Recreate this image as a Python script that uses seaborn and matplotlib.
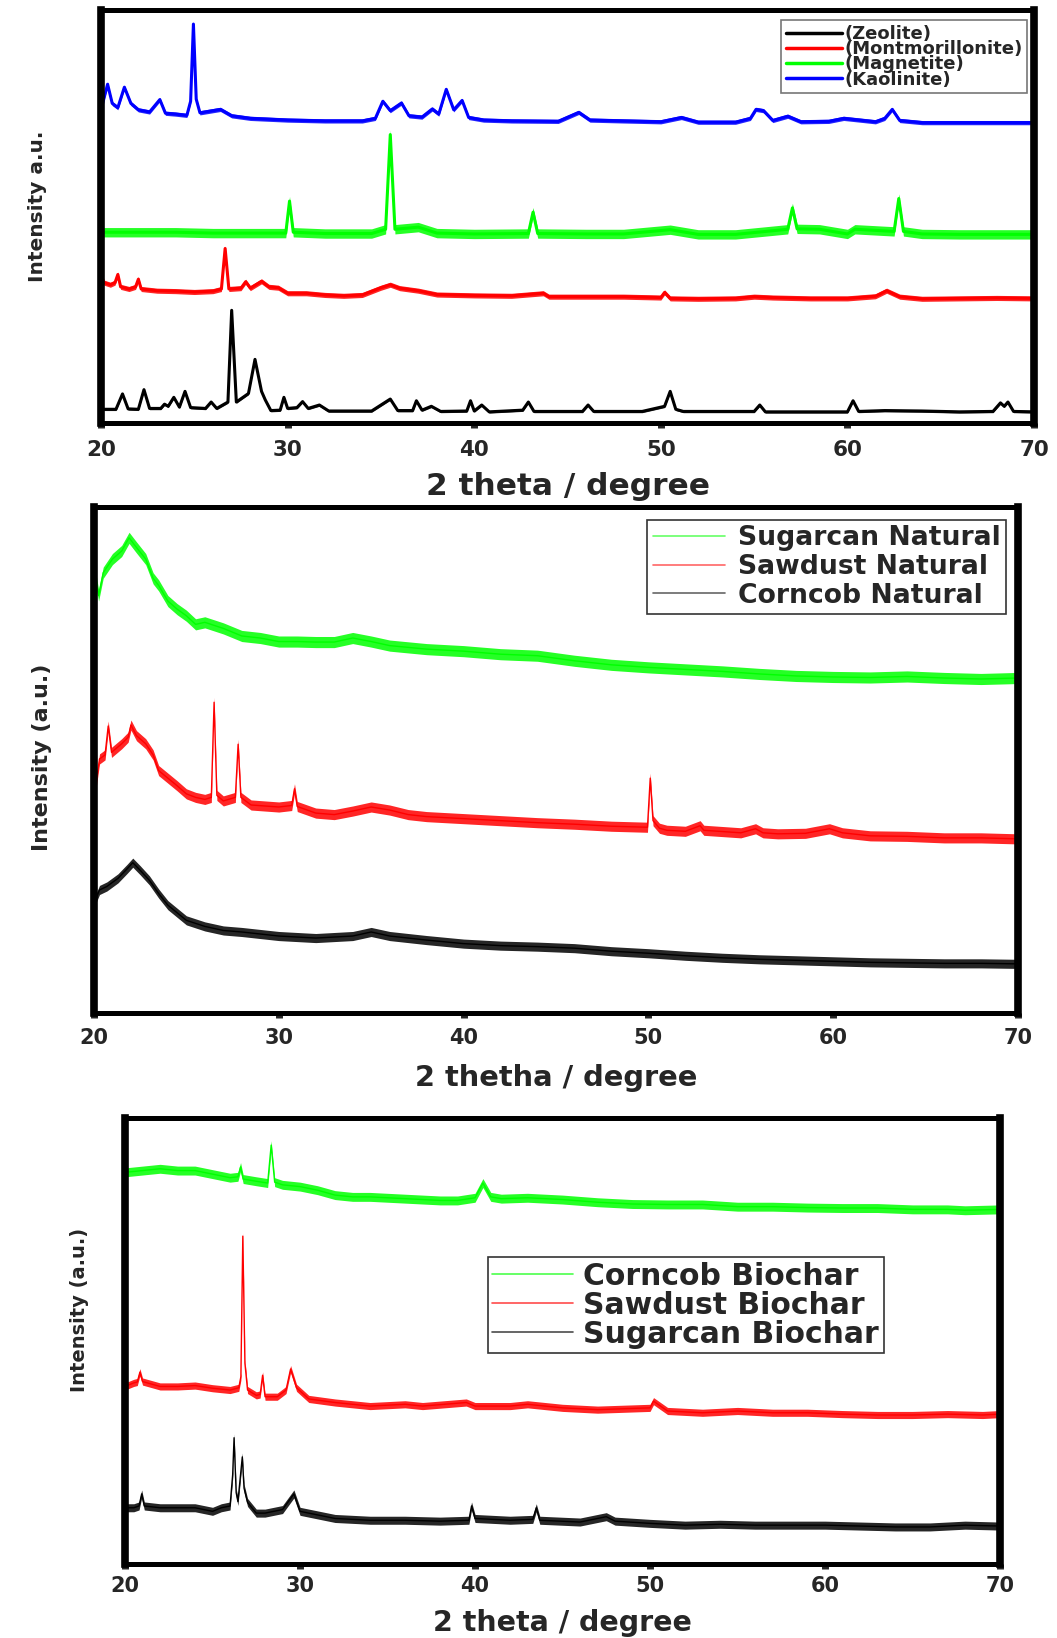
import numpy as np
import matplotlib
matplotlib.use("Agg")
import matplotlib.pyplot as plt
import seaborn as sns

# ---- panel 1 : clay / mineral references (2 theta, intensity a.u.) ----
zeolite = [(20.0, 5.8), (20.8, 5.8), (21.15, 9.4), (21.45, 5.9), (22.0, 5.8), (22.3, 10.4),
           (22.6, 6.0), (23.2, 6.0), (23.4, 7.0), (23.6, 6.5), (23.9, 8.6), (24.2, 6.3),
           (24.5, 10.0), (24.8, 6.2), (25.6, 6.0), (25.9, 7.5), (26.2, 6.0), (26.8, 7.5),
           (27.0, 29.0), (27.25, 7.5), (27.9, 9.5), (28.25, 17.5), (28.6, 10.0), (28.8, 8.0),
           (29.1, 5.5), (29.6, 5.6), (29.8, 8.6), (30.0, 6.0), (30.5, 6.2), (30.8, 7.6),
           (31.1, 6.0), (31.7, 6.8), (32.2, 5.4), (34.5, 5.4), (35.5, 8.2), (35.9, 5.5),
           (36.7, 5.5), (36.9, 7.8), (37.2, 5.6), (37.7, 6.5), (38.2, 5.3), (39.6, 5.4),
           (39.8, 7.8), (40.0, 5.4), (40.4, 6.8), (40.8, 5.2), (42.6, 5.6), (42.9, 7.5),
           (43.2, 5.3), (45.8, 5.3), (46.1, 6.8), (46.4, 5.3), (49.0, 5.3), (50.2, 6.5),
           (50.5, 10.0), (50.8, 5.8), (51.2, 5.3), (55.0, 5.3), (55.3, 6.8), (55.6, 5.2),
           (60.0, 5.2), (60.3, 7.8), (60.6, 5.3), (62.0, 5.5), (64.0, 5.4), (66.0, 5.2),
           (67.8, 5.3), (68.2, 7.3), (68.4, 6.5), (68.6, 7.5), (68.9, 5.3), (70.0, 5.2)]
montmorillonite = [(20.0, 37.5), (20.15, 35.5), (20.5, 35.0), (20.75, 35.5), (20.9, 37.4),
                   (21.05, 34.5), (21.5, 34.0), (21.85, 34.5), (22.0, 36.3), (22.15, 34.0),
                   (23.0, 33.6), (24.0, 33.5), (25.0, 33.3), (26.0, 33.5), (26.45, 34.0),
                   (26.65, 43.5), (26.85, 34.0), (27.5, 34.2), (27.75, 35.7), (28.0, 34.2),
                   (28.6, 35.8), (29.0, 34.5), (29.5, 34.3), (30.0, 33.0), (31.0, 33.0),
                   (32.0, 32.6), (33.0, 32.4), (34.0, 32.6), (35.0, 34.3), (35.5, 35.0),
                   (36.0, 34.2), (37.0, 33.6), (38.0, 32.7), (40.0, 32.5), (42.0, 32.4),
                   (43.7, 33.0), (44.0, 32.2), (46.0, 32.2), (48.0, 32.2), (50.0, 32.0),
                   (50.2, 33.2), (50.5, 31.8), (52.0, 31.7), (54.0, 31.8), (55.0, 32.2),
                   (56.0, 32.0), (58.0, 31.8), (60.0, 31.8), (61.5, 32.3), (62.1, 33.6),
                   (62.8, 32.2), (64.0, 31.7), (66.0, 31.8), (68.0, 31.9), (70.0, 31.8)]
magnetite = [(20.0, 47.3), (22.0, 47.3), (24.0, 47.3), (26.0, 47.1), (28.0, 47.1), (29.9, 47.1),
             (30.1, 54.6), (30.3, 47.3), (32.0, 47.0), (34.5, 47.0), (35.25, 48.0), (35.5, 70.2),
             (35.75, 48.0), (37.0, 48.5), (38.0, 47.1), (40.0, 46.9), (42.9, 47.0), (43.15, 52.0),
             (43.4, 47.0), (46.0, 46.9), (48.0, 46.9), (50.5, 47.9), (52.0, 46.8), (54.0, 46.8),
             (56.8, 48.0), (57.05, 53.0), (57.3, 48.1), (58.5, 48.0), (60.0, 46.9), (60.4, 48.0),
             (62.5, 47.5), (62.75, 55.2), (63.0, 47.5), (64.0, 46.9), (66.0, 46.8), (68.0, 46.8),
             (70.0, 46.8)]
kaolinite = [(20.0, 76.0), (20.35, 82.0), (20.6, 77.5), (20.9, 76.5), (21.25, 81.3), (21.6, 77.5),
             (22.0, 76.0), (22.6, 75.5), (23.15, 78.4), (23.45, 75.2), (24.0, 75.0), (24.6, 74.7),
             (24.8, 78.0), (24.95, 96.1), (25.1, 78.5), (25.3, 75.3), (26.4, 76.1), (27.0, 74.6),
             (28.0, 74.0), (30.0, 73.6), (32.0, 73.4), (34.0, 73.4), (34.7, 74.0), (35.1, 78.0),
             (35.5, 75.8), (36.1, 77.6), (36.5, 74.6), (37.2, 74.3), (37.75, 76.2), (38.1, 75.0),
             (38.5, 80.8), (38.9, 76.0), (39.35, 78.2), (39.7, 74.2), (40.5, 73.6), (42.0, 73.4),
             (44.5, 73.3), (45.6, 75.4), (46.2, 73.6), (48.0, 73.4), (50.0, 73.2), (51.1, 74.2),
             (52.0, 73.1), (54.0, 73.1), (54.8, 74.0), (55.1, 76.1), (55.5, 75.8), (56.0, 73.5),
             (56.8, 74.5), (57.5, 73.2), (59.0, 73.3), (59.8, 74.0), (61.5, 73.2), (62.0, 74.0),
             (62.4, 76.1), (62.8, 73.5), (64.0, 73.0), (66.0, 73.0), (68.0, 73.0), (70.0, 73.0)]
minerals = ["(Zeolite)", "(Montmorillonite)", "(Magnetite)", "(Kaolinite)"]
minerals_noise = [0.3, 0.6, 1.1, 0.5]

# ---- panel 2 : natural residues ----
sugarcan_nat = [(20.0, 83.6), (20.1, 86.0), (20.25, 82.5), (20.5, 87.0), (21.0, 89.7), (21.5, 91.3),
                (21.9, 93.9), (22.3, 92.0), (22.8, 89.7), (23.2, 85.9), (23.5, 84.5), (24.0, 81.4),
                (24.5, 79.8), (25.0, 78.5), (25.5, 76.8), (26.0, 77.2), (27.0, 76.0), (28.0, 74.5),
                (29.0, 74.1), (30.0, 73.4), (31.0, 73.4), (32.0, 73.3), (33.0, 73.3), (34.0, 74.1),
                (35.0, 73.4), (36.0, 72.6), (38.0, 71.9), (40.0, 71.5), (42.0, 70.9), (44.0, 70.6),
                (46.0, 69.6), (48.0, 68.8), (50.0, 68.3), (52.0, 67.9), (54.0, 67.5), (56.0, 67.0),
                (58.0, 66.6), (60.0, 66.4), (62.0, 66.3), (64.0, 66.5), (66.0, 66.2), (68.0, 66.0),
                (70.0, 66.2)]
sawdust_nat = [(20.0, 47.1), (20.1, 45.0), (20.3, 50.2), (20.6, 51.0), (20.77, 56.7), (20.95, 51.5),
               (21.5, 53.2), (21.85, 54.5), (22.0, 56.9), (22.3, 54.8), (22.8, 53.2), (23.2, 51.0),
               (23.5, 47.9), (24.0, 46.4), (24.5, 44.9), (25.0, 43.3), (25.5, 42.6), (26.0, 42.2),
               (26.35, 42.6), (26.5, 61.4), (26.65, 43.0), (27.0, 41.9), (27.65, 42.6), (27.8, 53.1),
               (27.95, 42.6), (28.5, 41.1), (30.0, 40.7), (30.7, 41.0), (30.85, 44.3), (31.0, 40.8),
               (32.0, 39.5), (33.0, 39.2), (34.0, 39.9), (35.0, 40.7), (36.0, 40.1), (37.0, 39.2),
               (38.0, 38.8), (40.0, 38.4), (42.0, 38.0), (44.0, 37.6), (46.0, 37.3), (48.0, 36.9),
               (49.95, 36.7), (50.1, 46.4), (50.25, 38.0), (50.6, 36.5), (51.0, 36.1), (52.0, 35.9),
               (52.8, 37.0), (53.0, 36.1), (55.0, 35.6), (55.8, 36.4), (56.2, 35.6), (57.0, 35.4),
               (58.5, 35.5), (59.8, 36.4), (60.5, 35.6), (62.0, 35.0), (64.0, 34.9), (66.0, 34.6),
               (68.0, 34.6), (70.0, 34.4)]
corncob_nat = [(20.0, 21.7), (20.3, 24.3), (20.7, 25.0), (21.3, 26.6), (21.8, 28.5), (22.1, 29.7),
               (22.5, 28.2), (23.0, 26.2), (23.5, 23.6), (24.0, 21.3), (24.5, 19.8), (25.0, 18.3),
               (26.0, 17.1), (27.0, 16.3), (28.0, 16.0), (30.0, 15.2), (32.0, 14.8), (34.0, 15.2),
               (35.0, 16.0), (36.0, 15.2), (38.0, 14.4), (40.0, 13.7), (42.0, 13.3), (44.0, 13.1),
               (46.0, 12.8), (48.0, 12.2), (50.0, 11.8), (52.0, 11.3), (54.0, 10.9), (56.0, 10.6),
               (58.0, 10.4), (60.0, 10.2), (62.0, 10.0), (64.0, 9.9), (66.0, 9.8), (68.0, 9.8),
               (70.0, 9.7)]
natural = ["Sugarcan Natural", "Sawdust Natural", "Corncob Natural"]
natural_noise = [1.1, 1.0, 0.9]

# ---- panel 3 : biochars ----
corncob_bio = [(20.0, 87.8), (21.0, 88.2), (22.0, 88.6), (23.0, 88.2), (24.0, 88.2), (25.0, 87.4),
               (26.0, 86.6), (26.45, 86.8), (26.6, 89.0), (26.75, 86.3), (27.5, 85.8), (28.15, 85.4),
               (28.35, 93.9), (28.55, 85.6), (29.0, 85.0), (30.0, 84.6), (31.0, 83.8), (32.0, 82.7),
               (33.0, 82.3), (34.0, 82.3), (35.0, 82.1), (36.0, 81.9), (37.0, 81.7), (38.0, 81.5),
               (39.0, 81.5), (40.0, 82.1), (40.45, 85.4), (40.9, 82.3), (41.5, 81.9), (43.0, 82.1),
               (45.0, 81.7), (47.0, 81.1), (49.0, 80.7), (51.0, 80.6), (53.0, 80.6), (55.0, 80.1),
               (57.0, 80.1), (59.0, 79.9), (61.0, 79.8), (63.0, 79.8), (65.0, 79.5), (67.0, 79.5),
               (68.0, 79.3), (70.0, 79.5)]
sawdust_bio = [(20.0, 39.8), (20.5, 40.6), (20.7, 40.8), (20.85, 43.0), (21.0, 40.9), (22.0, 39.8),
               (23.0, 39.8), (24.0, 40.0), (25.0, 39.4), (26.0, 39.0), (26.5, 39.5), (26.62, 42.0),
               (26.73, 73.5), (26.85, 45.0), (27.0, 39.0), (27.5, 37.8), (27.72, 38.0), (27.86, 42.3),
               (28.0, 37.5), (28.7, 37.5), (29.2, 39.0), (29.46, 43.7), (29.8, 39.5), (30.5, 37.0),
               (32.0, 36.2), (34.0, 35.4), (36.0, 35.8), (37.0, 35.4), (39.5, 36.2), (40.0, 35.4),
               (42.0, 35.4), (43.0, 35.8), (45.0, 35.0), (47.0, 34.6), (50.0, 35.0), (50.2, 36.5),
               (51.0, 34.3), (53.0, 33.9), (55.0, 34.3), (57.0, 33.9), (59.0, 33.9), (61.0, 33.6),
               (63.0, 33.4), (65.0, 33.4), (67.0, 33.6), (69.0, 33.4), (70.0, 33.6)]
sugarcan_bio = [(20.0, 12.6), (20.5, 12.6), (20.8, 13.0), (20.95, 15.7), (21.1, 13.0), (22.0, 12.6),
                (23.0, 12.6), (24.0, 12.6), (25.0, 11.8), (25.5, 12.6), (26.0, 13.0), (26.15, 20.0),
                (26.23, 28.3), (26.35, 16.0), (26.45, 14.0), (26.6, 20.0), (26.7, 24.0), (26.8, 17.0),
                (27.0, 13.8), (27.5, 11.4), (28.0, 11.4), (29.0, 12.2), (29.65, 15.7), (30.0, 11.8),
                (31.0, 11.0), (32.0, 10.2), (34.0, 9.8), (36.0, 9.8), (38.0, 9.6), (39.65, 9.8),
                (39.8, 13.0), (40.0, 10.2), (42.0, 9.8), (43.3, 10.0), (43.5, 12.6), (43.7, 9.8),
                (46.0, 9.4), (47.5, 10.6), (48.0, 9.6), (50.0, 9.1), (52.0, 8.7), (54.0, 8.9),
                (56.0, 8.7), (58.0, 8.7), (60.0, 8.7), (62.0, 8.5), (64.0, 8.3), (66.0, 8.3),
                (68.0, 8.7), (70.0, 8.5)]
biochar = ["Corncob Biochar", "Sawdust Biochar", "Sugarcan Biochar"]
biochar_noise = [1.0, 0.8, 0.9]

LIME, RED, BLUE, BLACK = "#00ff00", "#ff0000", "#0000ff", "#000000"

sns.set_style("ticks")
plt.rcParams["font.family"] = ["DejaVu Sans"]
plt.rcParams["font.weight"] = "bold"
plt.rcParams["axes.labelweight"] = "bold"


def draw_trace(ax, pts, noise, color, label, lw):
    # noisy XRD pattern: band for the counting noise + centre line
    x = np.array([p[0] for p in pts])
    y = np.array([p[1] for p in pts])
    ax.fill_between(x, y - noise, y + noise, color=color, lw=0, alpha=0.85)
    sns.lineplot(x=x, y=y, ax=ax, color=color, lw=lw, label=label)


def style_axes(ax, xlabel, ylabel, tick_size, tick_pad, xl_size, yl_size, xl_y, yl_pos):
    ax.set_xlim(20, 70)
    ax.set_yticks([])
    ax.set_xticks(range(20, 71, 10))
    ax.set_xticks(range(25, 70, 10), minor=True)
    ax.tick_params(axis="x", which="major", direction="out", length=3.6, width=5,
                   labelsize=tick_size, pad=tick_pad)
    ax.tick_params(axis="x", which="minor", direction="out", length=2.5, width=4)
    for side, sp in ax.spines.items():
        sp.set_linewidth(5.5 if side in ("left", "right") else 3.6)
        sp.set_color("black")
    ax.set_xlabel(xlabel, fontsize=xl_size, fontweight="bold")
    ax.set_ylabel(ylabel, fontsize=yl_size, fontweight="bold")
    ax.xaxis.set_label_coords(0.5, xl_y)
    ax.yaxis.set_label_coords(yl_pos[0], yl_pos[1])


fig = plt.figure(figsize=(10.57, 16.38), dpi=100)

# panel 1
ax1 = fig.add_axes([0.0956, 0.7418, 0.8827, 0.2521])
for pts, nz, col, lab in zip([zeolite, montmorillonite, magnetite, kaolinite], minerals_noise,
                             [BLACK, RED, LIME, BLUE], minerals):
    draw_trace(ax1, pts, nz, col, lab, 2.2)
ax1.set_ylim(2.6, 99.4)
style_axes(ax1, "2 theta / degree", "Intensity a.u.", 15.5, 9, 22.5, 14.5, -0.12, (-0.058, 0.525))
leg = ax1.legend(loc="upper right", bbox_to_anchor=(0.9925, 0.975), fontsize=13,
                 handlelength=3.1, handletextpad=0.15, labelspacing=-0.15, borderpad=0.25,
                 borderaxespad=0, frameon=True, fancybox=False)
leg.get_frame().set_edgecolor("#555555")
leg.get_frame().set_linewidth(1.2)
for line in leg.get_lines():
    line.set_linewidth(2.5)

# panel 2
ax2 = fig.add_axes([0.0889, 0.3816, 0.8742, 0.3089])
for pts, nz, col, lab in zip([sugarcan_nat, sawdust_nat, corncob_nat], natural_noise,
                             [LIME, RED, BLACK], natural):
    draw_trace(ax2, pts, nz, col, lab, 1.0)
ax2.set_ylim(0, 100)
style_axes(ax2, "2 thetha / degree", "Intensity (a.u.)", 15, 7, 20.8, 16, -0.10, (-0.045, 0.506))
leg = ax2.legend(loc="upper right", bbox_to_anchor=(0.987, 0.974), fontsize=19.2,
                 handlelength=2.7, handletextpad=0.5, labelspacing=0.1, borderpad=0.2,
                 borderaxespad=0, frameon=True, fancybox=False)
leg.get_frame().set_edgecolor("black")
leg.get_frame().set_linewidth(1.2)
for line in leg.get_lines():
    line.set_linewidth(1.2)
    line.set_alpha(0.6)

# panel 3
ax3 = fig.add_axes([0.1183, 0.0452, 0.8278, 0.2723])
for pts, nz, col, lab in zip([corncob_bio, sawdust_bio, sugarcan_bio], biochar_noise,
                             [LIME, RED, BLACK], biochar):
    draw_trace(ax3, pts, nz, col, lab, 1.0)
ax3.set_ylim(0, 100)
style_axes(ax3, "2 theta / degree", "Intensity (a.u.)", 15, 5, 20.5, 14, -0.10, (-0.041, 0.57))
leg = ax3.legend(loc="upper right", bbox_to_anchor=(0.867, 0.688), fontsize=21.5,
                 handlelength=2.7, handletextpad=0.35, labelspacing=0.0, borderpad=0.15,
                 borderaxespad=0, frameon=True, fancybox=False)
leg.get_frame().set_edgecolor("black")
leg.get_frame().set_linewidth(1.2)
for line in leg.get_lines():
    line.set_linewidth(1.2)
    line.set_alpha(0.7)

fig.savefig("out.png", dpi=100)
